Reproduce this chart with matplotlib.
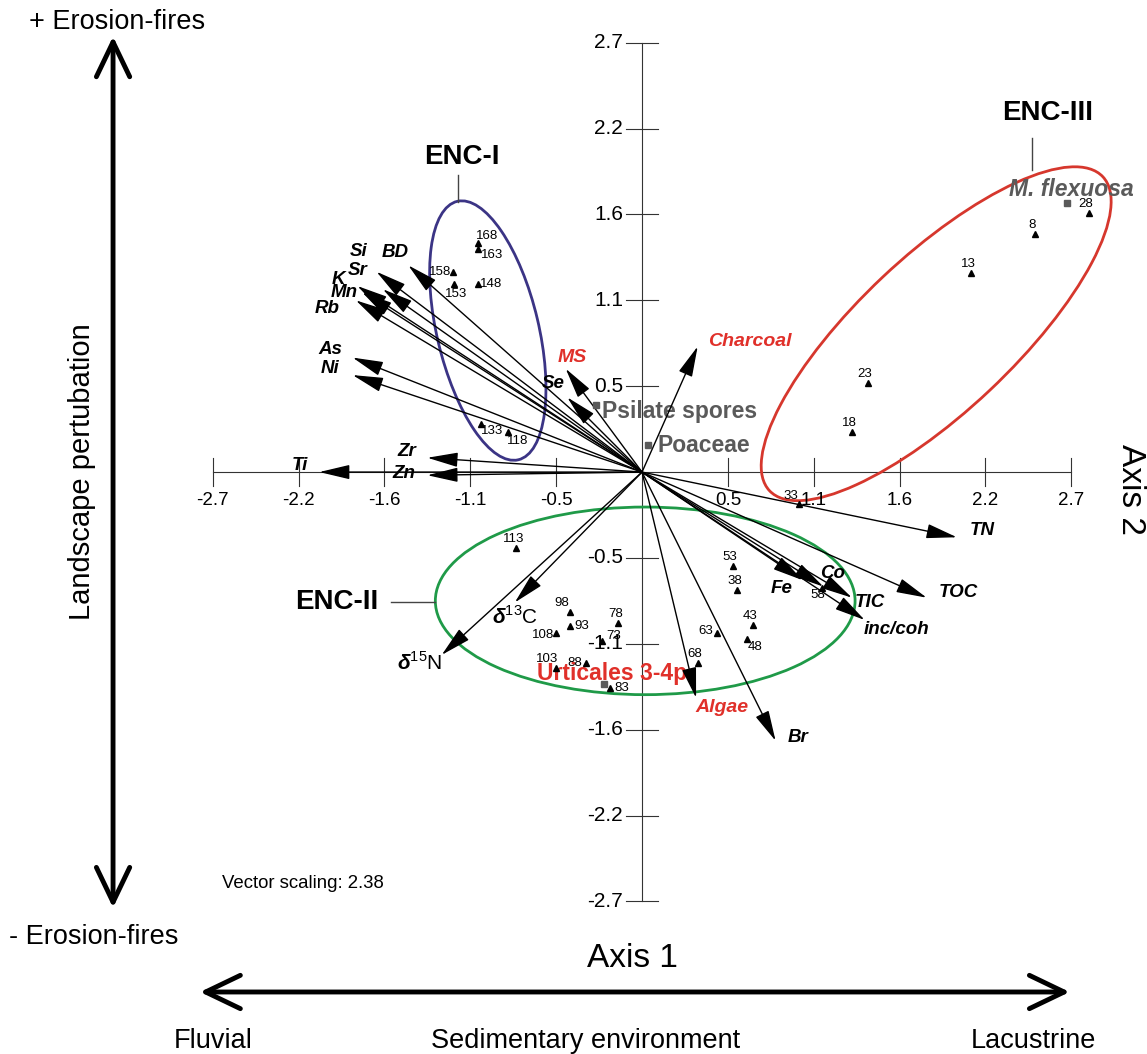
import numpy as np
import matplotlib
matplotlib.use('Agg')
import matplotlib.pyplot as plt
from matplotlib.patches import Ellipse

plt.rcParams['font.family'] = ['Liberation Sans', 'DejaVu Sans']
plt.rcParams['mathtext.fontset'] = 'custom'
plt.rcParams['mathtext.rm'] = 'Liberation Sans'
plt.rcParams['mathtext.bf'] = 'Liberation Sans:italic:bold'

# axis ticks (both axes use the same values)
tick_vals = [-2.7, -2.16, -1.62, -1.08, -0.54, 0.54, 1.08, 1.62, 2.16, 2.7]
tick_labels = ['-2.7', '-2.2', '-1.6', '-1.1', '-0.5', '0.5', '1.1', '1.6', '2.2', '2.7']

# variable vectors (arrow tips, scaled)
vec_names = ['BD', 'Si', 'Sr', 'K', 'Mn', 'Rb', 'As', 'Ni', 'Se', 'MS', 'Zr', 'Zn', 'Ti',
             'd13C', 'd15N', 'Algae', 'Br', 'Fe', 'Co', 'TIC', 'inc/coh', 'TOC', 'TN', 'Charcoal']
vec_x = [-1.47, -1.67, -1.63, -1.79, -1.76, -1.80, -1.82, -1.82, -0.47, -0.48, -1.35, -1.35, -2.03,
         -0.80, -1.26, 0.34, 0.84, 1.01, 1.14, 1.32, 1.40, 1.79, 1.98, 0.35]
vec_y = [1.30, 1.26, 1.15, 1.17, 1.13, 1.08, 0.72, 0.61, 0.47, 0.65, 0.09, -0.02, 0.0,
         -0.82, -1.15, -1.42, -1.69, -0.68, -0.72, -0.79, -0.93, -0.79, -0.41, 0.79]
red_vars = ['MS', 'Algae', 'Charcoal']

# sample scores
samples = ['28', '8', '13', '23', '18', '33', '53', '38', '58', '43', '48', '63', '68', '78', '73',
           '93', '98', '108', '103', '88', '83', '113', '168', '163', '158', '153', '148', '133', '118']
samp_x = [2.81, 2.47, 2.07, 1.42, 1.32, 0.99, 0.57, 0.60, 1.13, 0.70, 0.66, 0.47, 0.35, -0.15, -0.25,
          -0.45, -0.45, -0.54, -0.54, -0.35, -0.20, -0.79, -1.03, -1.03, -1.19, -1.18, -1.03, -1.01, -0.84]
samp_y = [1.63, 1.50, 1.25, 0.56, 0.25, -0.20, -0.59, -0.74, -0.73, -0.96, -1.05, -1.01, -1.20, -0.95, -1.06,
          -0.97, -0.88, -1.01, -1.23, -1.20, -1.36, -0.48, 1.44, 1.40, 1.26, 1.18, 1.18, 0.30, 0.25]

# pollen taxa (supplementary)
taxa = ['Psilate spores', 'Poaceae', 'M. flexuosa', 'Urticales 3-4p']
taxa_x = [-0.29, 0.04, 2.67, -0.24]
taxa_y = [0.42, 0.17, 1.69, -1.33]

# groups
groups = ['ENC-I', 'ENC-II', 'ENC-III']
grp_cx = [-0.97, 0.02, 1.85]
grp_cy = [0.89, -0.81, 0.87]
grp_w = [0.64, 2.64, 2.88]
grp_h = [1.67, 1.18, 0.98]
grp_ang = [13.3, 0, 43.3]
grp_col = ['#3b3485', '#1f9a48', '#d6372d']

# label placement
vec_lab = {'BD': (-1.55, 1.38), 'Si': (-1.78, 1.39), 'Sr': (-1.79, 1.27), 'K': (-1.91, 1.21),
           'Mn': (-1.87, 1.13), 'Rb': (-1.98, 1.03), 'As': (-1.96, 0.77), 'Ni': (-1.96, 0.65),
           'Se': (-0.56, 0.56), 'MS': (-0.44, 0.72), 'Zr': (-1.48, 0.13), 'Zn': (-1.50, -0.01),
           'Ti': (-2.15, 0.04), 'd13C': (-0.80, -0.91), 'd15N': (-1.40, -1.20), 'Algae': (0.50, -1.48),
           'Br': (0.98, -1.67), 'Fe': (0.88, -0.73), 'Co': (1.20, -0.64), 'TIC': (1.43, -0.82),
           'inc/coh': (1.60, -0.99), 'TOC': (1.99, -0.76), 'TN': (2.14, -0.37), 'Charcoal': (0.68, 0.82)}
num_off = {'93': (8, 0), '73': (8, 3.5), '148': (9.5, 0.5), '163': (10, -4), '168': (6.5, 5),
           '158': (-9.5, 0), '153': (1, -7), '133': (8, -5), '118': (6.5, -6.5), '48': (6, -6),
           '63': (-8, 1.5), '108': (-9.5, -1.5), '88': (-8.5, 0), '83': (8.5, 0.5), '103': (-6.5, 6.5),
           '98': (-6, 6.5), '33': (-6.5, 6), '58': (-3, -5)}

RED = '#e0302a'
GRAY = '#5a5a5a'

fig = plt.figure(figsize=(11.47, 10.54), dpi=100)
ax = fig.add_axes([0, 0, 1, 1])
ax.set_xlim(-4.038, 3.176)
ax.set_ylim(-3.660, 2.969)
ax.axis('off')

# cross axes with ticks
ax.plot([-2.7, 2.7], [0, 0], color='#333333', lw=0.8, zorder=1)
ax.plot([0, 0], [-2.7, 2.7], color='#333333', lw=0.8, zorder=1)
for t, lab in zip(tick_vals, tick_labels):
	ax.plot([t, t], [-0.09, 0.09], color='#333333', lw=0.8, zorder=1)
	ax.text(t, -0.18, lab, ha='center', va='center', fontsize=13.5)
	ax.plot([-0.1, 0.1], [t, t], color='#333333', lw=0.8, zorder=1)
	ax.text(-0.12, t, lab, ha='right', va='center', fontsize=15)

# group ellipses
for g, cx, cy, w, h, a, c in zip(groups, grp_cx, grp_cy, grp_w, grp_h, grp_ang, grp_col):
	ax.add_patch(Ellipse((cx, cy), w, h, angle=a, fill=False, ec=c, lw=2, zorder=2))
ax.plot([-1.16, -1.16], [1.87, 1.70], color='#444444', lw=1)
ax.text(-1.13, 1.98, 'ENC-I', ha='center', va='center', fontsize=20, fontweight='bold')
ax.plot([-1.58, -1.30], [-0.82, -0.82], color='#444444', lw=1)
ax.text(-1.92, -0.82, 'ENC-II', ha='center', va='center', fontsize=20, fontweight='bold')
ax.plot([2.45, 2.45], [2.10, 1.90], color='#444444', lw=1)
ax.text(2.55, 2.26, 'ENC-III', ha='center', va='center', fontsize=20, fontweight='bold')

# vectors
for n, x, y in zip(vec_names, vec_x, vec_y):
	ax.annotate('', xy=(x, y), xytext=(0, 0),
		arrowprops=dict(arrowstyle='-|>,head_length=1.9,head_width=0.45', mutation_scale=10,
			color='black', lw=1.0, shrinkA=0, shrinkB=0), zorder=4)
	lx, ly = vec_lab[n]
	col = RED if n in red_vars else 'black'
	if n == 'd13C':
		ax.text(lx, ly, r'$\mathbf{\delta}^{\rm 13}$C', ha='center', va='center', fontsize=15)
	elif n == 'd15N':
		ax.text(lx, ly, r'$\mathbf{\delta}^{\rm 15}$N', ha='center', va='center', fontsize=15)
	else:
		ax.text(lx, ly, n, ha='center', va='center', fontsize=14 if col == RED else 13.5,
			fontweight='bold', fontstyle='italic', color=col)

# samples
ax.plot(samp_x, samp_y, '^', color='black', ms=4, zorder=5)
for s, x, y in zip(samples, samp_x, samp_y):
	ax.annotate(s, (x, y), xytext=num_off.get(s, (-2, 6.5)), textcoords='offset points',
		ha='center', va='center', fontsize=9.5)

# taxa
ax.plot(taxa_x, taxa_y, 's', color=GRAY, ms=5, zorder=5)
ax.text(-0.25, 0.38, 'Psilate spores', ha='left', va='center', fontsize=16.5, fontweight='bold', color=GRAY)
ax.text(0.10, 0.165, 'Poaceae', ha='left', va='center', fontsize=16.5, fontweight='bold', color=GRAY)
ax.text(2.31, 1.78, 'M. flexuosa', ha='left', va='center', fontsize=16.5, fontweight='bold',
	fontstyle='italic', color=GRAY)
ax.text(-0.66, -1.265, 'Urticales 3-4p', ha='left', va='center', fontsize=16.5, fontweight='bold', color=RED)

# interpretation arrows and titles
ax.annotate('', xy=(-3.327, 2.74), xytext=(-3.327, -2.74),
	arrowprops=dict(arrowstyle='<->,head_length=25,head_width=12', mutation_scale=1,
		color='black', lw=3.5, shrinkA=0, shrinkB=0))
ax.annotate('', xy=(-2.78, -3.27), xytext=(2.69, -3.27),
	arrowprops=dict(arrowstyle='<->,head_length=25,head_width=12', mutation_scale=1,
		color='black', lw=3.5, shrinkA=0, shrinkB=0))
ax.text(-3.30, 2.83, '+ Erosion-fires', ha='center', va='center', fontsize=19.5)
ax.text(-3.45, -2.925, '- Erosion-fires', ha='center', va='center', fontsize=19.5)
ax.text(-3.52, 0.0, 'Landscape pertubation', ha='center', va='center', fontsize=21, rotation=90)
ax.text(-2.64, -2.585, 'Vector scaling: 2.38', ha='left', va='center', fontsize=13.4)
ax.text(-0.06, -3.06, 'Axis 1', ha='center', va='center', fontsize=24)
ax.text(3.07, -0.11, 'Axis 2', ha='center', va='center', fontsize=24, rotation=-90)
ax.text(-2.70, -3.58, 'Fluvial', ha='center', va='center', fontsize=19.5)
ax.text(-1.33, -3.58, 'Sedimentary environment', ha='left', va='center', fontsize=19.5)
ax.text(2.46, -3.58, 'Lacustrine', ha='center', va='center', fontsize=19.5)

fig.savefig('out.png', dpi=100)
